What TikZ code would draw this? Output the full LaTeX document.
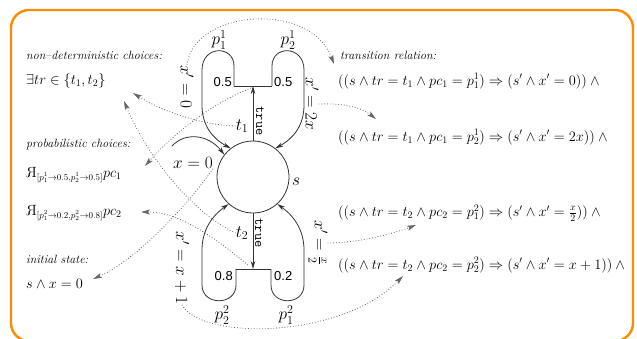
\documentclass[tikz,border=0pt]{standalone}
\usepackage{fontspec}
\newfontfamily\helv{Liberation Sans}
\usetikzlibrary{arrows.meta}
\definecolor{frameorange}{RGB}{255,140,0}
\newcommand{\randq}{\reflectbox{$\mathrm{R}$}}
\newcommand{\smallsub}[1]{\scalebox{0.9}{$\scriptstyle #1$}}
\begin{document}
\begin{tikzpicture}[x=1pt,y=-1pt,
  solidline/.style={line width=0.8pt, draw=black!80},
  tipa/.style={-{Stealth[length=8pt,width=4.5pt]}},
  dots/.style={dotted, line width=0.8pt, draw=black!60, -{Stealth[length=9pt,width=5pt,inset=2pt]}},
  fm/.style={font=\fontsize{14.8}{17}\selectfont, inner sep=0pt, anchor=west},
  hd/.style={font=\fontsize{12}{14}\selectfont\itshape, anchor=west, inner sep=0pt},
  pr/.style={font=\helv\fontsize{13}{15}\selectfont, inner sep=1pt},
  lab/.style={font=\fontsize{17.5}{20}\selectfont, inner sep=0pt},
  tt/.style={font=\ttfamily\fontsize{14}{16}\selectfont, inner sep=0pt, rotate=-90},
]
\useasboundingbox (0,0) rectangle (637,338);
\clip (0,0) rectangle (637,338);
\draw[frameorange, line width=2.4pt, rounded corners=18pt] (11,10) rectangle (633,341);

% state
\node[circle, draw, solidline, minimum size=72pt, inner sep=0pt] (s) at (253,177) {};
\node[lab] (slab) at (296,182) {$s$};

% top branch
\coordinate (tb) at (253,86);
\coordinate (tbl) at (234,86);
\coordinate (tbr) at (272,86);
\draw[solidline, tipa] (s.north) -- (tb);
\draw[solidline] (tbl) -- (tbr);
\draw[solidline, tipa] (tbl) -- (234,66) .. controls (234,45) and (202,45) .. (202,70)
  -- (202,105) .. controls (202,125) and (212,138) .. (s.128);
\draw[solidline, tipa] (tbr) -- (272,66) .. controls (272,45) and (304,45) .. (304,70)
  -- (304,105) .. controls (304,125) and (294,138) .. (s.52);

% bottom branch
\coordinate (bb) at (253,269);
\coordinate (bbl) at (236,269);
\coordinate (bbr) at (271,269);
\draw[solidline, tipa] (s.south) -- (bb);
\draw[solidline] (bbl) -- (bbr);
\draw[solidline, tipa] (bbl) -- (236,285) .. controls (236,306) and (202,306) .. (202,285)
  -- (202,250) .. controls (202,230) and (212,216) .. (s.228);
\draw[solidline, tipa] (bbr) -- (271,285) .. controls (271,306) and (304,306) .. (304,285)
  -- (304,250) .. controls (304,230) and (294,216) .. (s.-48);

% initial arrow
\coordinate (ini) at (172,146);
\draw[solidline, tipa] (ini) .. controls (185,132) and (208,134) .. (s.142);

% labels
\node[lab] (p11) at (219,40) {$p^1_1$};
\node[lab] (p21) at (288,40) {$p^1_2$};
\node[lab] (p22) at (222,315) {$p^2_2$};
\node[lab] (p12) at (286,315) {$p^2_1$};
\node[pr, anchor=south east] (q1) at (233,88) {0.5};
\node[pr, anchor=south west] (q2) at (273,88) {0.5};
\node[pr, anchor=north east] (q3) at (234,270) {0.8};
\node[pr, anchor=north west] (q4) at (273,270) {0.2};
\node[tt] (true1) at (260,121) {true};
\node[tt] (true2) at (259,233) {true};
\node[lab] (t1) at (242,126) {$t_1$};
\node[lab] (t2) at (242,233) {$t_2$};
\node[lab, rotate=-90] (lx0) at (187,87) {$x'=0$};
\node[lab, rotate=-90] (lx2) at (312,104) {$x'=2x$};
\node[lab, rotate=-90] (lxh) at (318,243) {$x'=\frac{x}{2}$};
\node[lab, rotate=-90] (lx1) at (182,268) {$x'=x+1$};
\node[lab] (lxi) at (193,163) {$x=0$};

% left texts
\node[hd] (h1) at (26,55) {non--deterministic choices:};
\node[fm] (f1) at (26,81) {$\exists tr\in\{t_1,t_2\}$};
\node[hd] (h2) at (26,144) {probabilistic choices:};
\node[fm] (f2) at (26,175) {$\randq_{\smallsub{[p_1^1\to0.5,p_2^1\to0.5]}}pc_1$};
\node[fm] (f3) at (26,213) {$\randq_{\smallsub{[p_1^2\to0.2,p_2^2\to0.8]}}pc_2$};
\node[hd] (h3) at (26,259) {initial state:};
\node[fm] (f4) at (26,284) {$s\wedge x=0$};

% right texts
\node[hd] (h4) at (340,55) {transition relation:};
\node[fm] (r1) at (338,81) {$\big((s\wedge tr=t_1\wedge pc_1=p_1^1)\Rightarrow(s'\wedge x'=0)\big)\wedge{}$};
\node[fm] (r2) at (338,137) {$\big((s\wedge tr=t_1\wedge pc_1=p_2^1)\Rightarrow(s'\wedge x'=2x)\big)\wedge{}$};
\node[fm] (r3) at (338,213) {$\big((s\wedge tr=t_2\wedge pc_2=p_1^2)\Rightarrow(s'\wedge x'=\frac{x}{2})\big)\wedge{}$};
\node[fm] (r4) at (338,265) {$\big((s\wedge tr=t_2\wedge pc_2=p_2^2)\Rightarrow(s'\wedge x'=x+1)\big)\wedge{}$};

% arrow ends
\coordinate (e1) at (133,93);
\coordinate (e2) at (124,101);
\coordinate (e3) at (145,166);
\coordinate (e4) at (141,212);
\coordinate (e5) at (93,279);
\coordinate (e6) at (334,64);
\coordinate (e7) at (376,119);
\coordinate (e8) at (416,225);
\coordinate (e9) at (403,276);
\coordinate (tbj) at (251,88);
\coordinate (bbj) at (248,265);

% dotted connectors
\draw[dots] (t1.west) .. controls (200,125) and (160,110) .. (e1);
\draw[dots] (t2.west) .. controls (190,212) and (145,152) .. (e2);
\draw[dots] (tbj) .. controls (205,106) and (168,140) .. (e3);
\draw[dots] (bbj) .. controls (215,238) and (180,212) .. (e4);
\draw[dots] (lxi.south east) .. controls (180,215) and (132,262) .. (e5);
\draw[dots] (lx0.west) .. controls (193,10) and (310,0) .. (e6);
\draw[dots] (lx2.north) .. controls (345,103) and (362,108) .. (e7);
\draw[dots] (lxh.north) .. controls (360,243) and (395,233) .. (e8);
\draw[dots] (lx1.east) .. controls (200,340) and (340,340) .. (e9);
\end{tikzpicture}
\end{document}
